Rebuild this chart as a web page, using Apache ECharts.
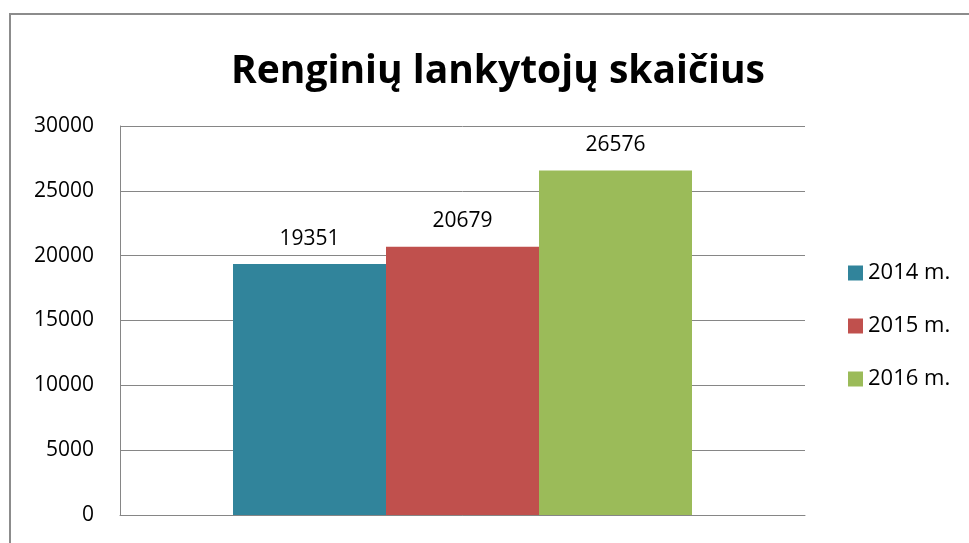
<!DOCTYPE html>
<html>
<head>
<meta charset="utf-8">
<script src="https://cdn.jsdelivr.net/npm/echarts@6/dist/echarts.min.js"></script>
<style>
  html, body { margin: 0; padding: 0; background: #fff; }
  #main { width: 969px; height: 543px; }
</style>
</head>
<body>
<div id="main"></div>
<script>
// duomenys
var categories = ['Lankytojai'];
var seriesNames = ['2014 m.', '2015 m.', '2016 m.'];
var values2014 = [19351];
var values2015 = [20679];
var values2016 = [26576];
var colors = ['#31849B', '#C0504D', '#9BBB59'];

var chart = echarts.init(document.getElementById('main'));

var font = '"Open Sans", "Noto Sans", sans-serif';

function barSeries(name, data, color) {
  return {
    name: name,
    type: 'bar',
    data: data,
    barWidth: 153,
    barGap: '0%',
    itemStyle: { color: color },
    label: {
      show: true,
      position: 'top',
      distance: 15,
      color: '#000',
      fontSize: 21,
      fontFamily: font
    }
  };
}

chart.setOption({
  animation: false,
  textStyle: { fontFamily: font },
  graphic: [{
    type: 'rect',
    shape: { x: 10, y: 14, width: 1000, height: 600 },
    style: { fill: 'none', stroke: '#8c8c8c', lineWidth: 2 }
  }],
  title: {
    text: 'Renginių lankytojų skaičius',
    left: 493,
    textAlign: 'center',
    top: 47,
    textStyle: { fontSize: 39, fontWeight: 'bold', color: '#000', fontFamily: font }
  },
  legend: {
    orient: 'vertical',
    left: 843,
    top: 256,
    itemWidth: 15,
    itemHeight: 15,
    itemGap: 29,
    icon: 'rect',
    textStyle: { fontSize: 22, lineHeight: 24, color: '#000', fontFamily: font },
    data: seriesNames
  },
  grid: { left: 120, right: 164, top: 126, bottom: 28, containLabel: false },
  xAxis: {
    type: 'category',
    data: categories,
    axisLine: { lineStyle: { color: '#868686', width: 1 } },
    axisTick: { show: false },
    axisLabel: { show: false }
  },
  yAxis: {
    type: 'value',
    min: 0,
    max: 30000,
    interval: 5000,
    axisLine: { show: true, lineStyle: { color: '#868686', width: 1 } },
    axisTick: { show: false },
    axisLabel: {
      fontSize: 21,
      color: '#000',
      margin: 26,
      fontFamily: font,
      formatter: function (v) { return String(v); }
    },
    splitLine: { lineStyle: { color: '#868686', width: 1 } }
  },
  series: [
    barSeries(seriesNames[0], values2014, colors[0]),
    barSeries(seriesNames[1], values2015, colors[1]),
    barSeries(seriesNames[2], values2016, colors[2])
  ]
});
</script>
</body>
</html>
